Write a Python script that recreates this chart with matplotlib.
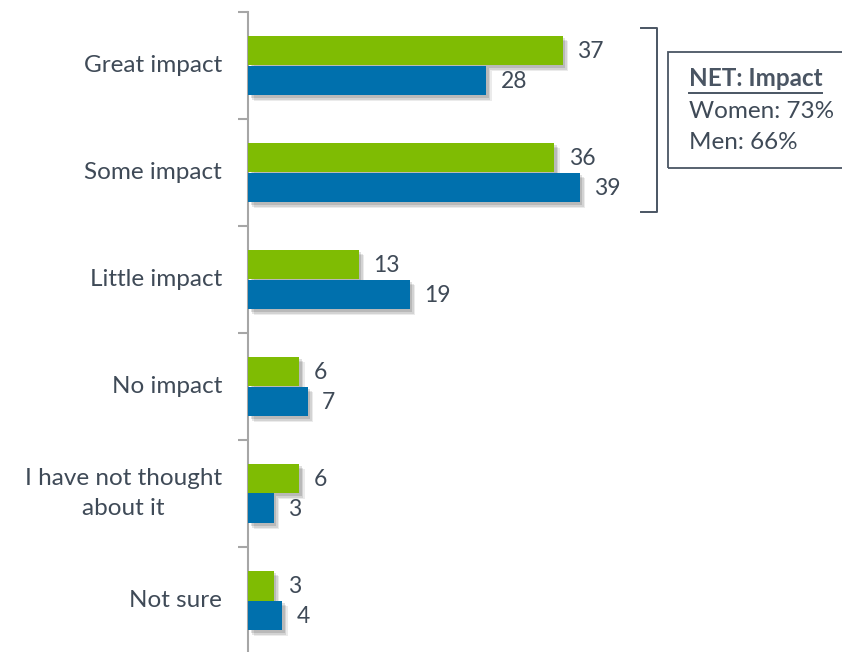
import matplotlib
matplotlib.use("Agg")
import matplotlib.pyplot as plt
import matplotlib.patheffects as pe
from matplotlib.patches import Rectangle
from matplotlib.lines import Line2D

categories = ["Great impact", "Some impact", "Little impact", "No impact",
              "I have not thought\nabout it", "Not sure"]
women = [37, 36, 13, 6, 6, 3]
men = [28, 39, 19, 7, 3, 4]
net_title = "NET: Impact"
net_lines = ["Women: 73%", "Men: 66%"]

GREEN = "#7FBC03"
BLUE = "#0070AD"
TEXT = "#3F4A57"
AXIS = "#A6A6A6"

plt.rcParams['font.family'] = ['Lato', 'DejaVu Sans']
FS = 17.5
VFS = 16.5

W, H = 842, 652
fig = plt.figure(figsize=(W / 100, H / 100), dpi=100)
left, top, bottom = 248, 12, 654
ax = fig.add_axes([left / W, 1 - bottom / H, 1 - left / W, (bottom - top) / H])
ax.set_xlim(0, (W - left) / 8.5)
ax.set_ylim(len(categories) - 0.5, -0.5)

bh = 0.28
shadow = [pe.SimplePatchShadow(offset=(4, -4), shadow_rgbFace="#000000", alpha=0.08),
          pe.SimplePatchShadow(offset=(3, -3), shadow_rgbFace="#000000", alpha=0.10),
          pe.SimplePatchShadow(offset=(2, -2), shadow_rgbFace="#000000", alpha=0.12),
          pe.Normal()]
for i, (w, m) in enumerate(zip(women, men)):
    b1 = ax.barh(i - bh / 2, w, height=bh, color=GREEN, zorder=3)
    b2 = ax.barh(i + bh / 2, m, height=bh, color=BLUE, zorder=3)
    for b in list(b1) + list(b2):
        b.set_path_effects(shadow)
    ax.annotate(str(w), (w, i - bh / 2), xytext=(10.5, -1), textcoords="offset points",
                va="center", ha="left", fontsize=VFS, color=TEXT)
    ax.annotate(str(m), (m, i + bh / 2), xytext=(10.5, -1), textcoords="offset points",
                va="center", ha="left", fontsize=VFS, color=TEXT)
    ax.text(-26 / 8.5, i, categories[i], ha="right", va="center",
            multialignment="center", fontsize=FS, color=TEXT, linespacing=1.5)

for s in ["top", "right", "bottom"]:
    ax.spines[s].set_visible(False)
ax.spines["left"].set_color(AXIS)
ax.spines["left"].set_linewidth(1.5)
ax.set_xticks([])
ax.set_yticks([k - 0.5 for k in range(len(categories) + 1)])
ax.set_yticklabels([])
ax.tick_params(axis="y", direction="out", length=7, width=1.5, color=AXIS)

# bracket
def px(x, y):
    return x / W, 1 - y / H
bx0, bx1, by0, by1 = 641, 657, 28, 212
fig.add_artist(Line2D([px(bx0, 0)[0], px(bx1, 0)[0], px(bx1, 0)[0], px(bx0, 0)[0]],
                      [px(0, by0)[1], px(0, by0)[1], px(0, by1)[1], px(0, by1)[1]],
                      color="#4A5563", lw=1.4))
# box
x0, y0 = px(668, 168)
fig.add_artist(Rectangle((x0, y0), (W + 5 - 668) / W, (168 - 52) / H,
                         fill=False, edgecolor="#4A5563", lw=1.3, transform=fig.transFigure))
tx = 689 / W
fig.text(tx, px(0, 78)[1], net_title, fontsize=FS, fontweight="bold", color="#4A5563",
         va="center", ha="left")
fig.add_artist(Line2D([tx, 822 / W], [px(0, 93)[1]] * 2, color="#4A5563", lw=1.4))
fig.text(tx, px(0, 112)[1], net_lines[0], fontsize=FS, color=TEXT, va="center", ha="left")
fig.text(tx, px(0, 143)[1], net_lines[1], fontsize=FS, color=TEXT, va="center", ha="left")

fig.savefig("out.png", dpi=100)
